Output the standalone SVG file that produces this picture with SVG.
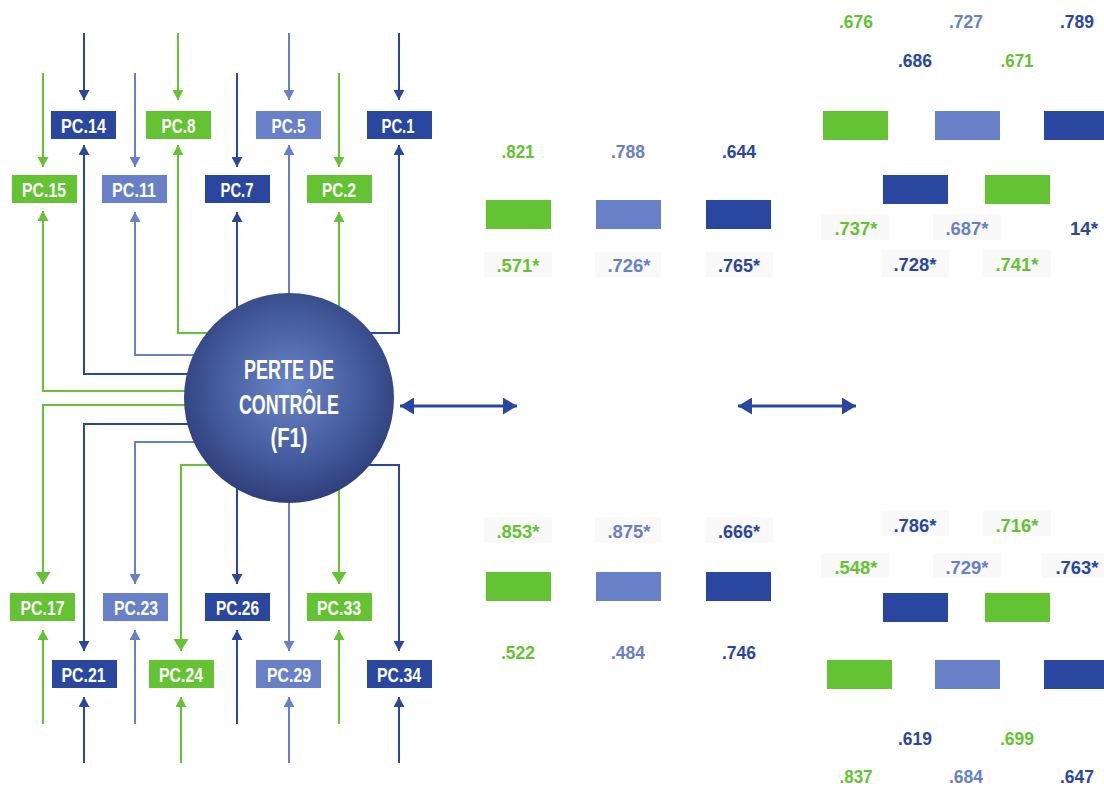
<svg xmlns="http://www.w3.org/2000/svg" width="1104" height="788" viewBox="0 0 1104 788">
<style>
.dk{fill:#29479e}.lb{fill:#6780c8}.gr{fill:#64c332}
.sdk{stroke:#29479e}.slb{stroke:#6780c8}.sgr{stroke:#64c332}
.c{fill:none;stroke-width:2}
.lbl{font-family:"Liberation Sans",Arial,sans-serif;font-weight:700;font-size:21px;fill:#fff;text-anchor:middle}
.num{font-family:"Liberation Sans",Arial,sans-serif;font-weight:700;font-size:19px;text-anchor:middle}
.tdk{fill:#29479e}.tlb{fill:#6780c8}.tgr{fill:#64c332}
.bg{fill:#f9f9f9}
.ctr{font-family:"Liberation Sans",Arial,sans-serif;font-weight:700;font-size:27px;fill:#fff;text-anchor:middle}
</style>
<defs>
<marker id="adk" markerUnits="userSpaceOnUse" markerWidth="11" markerHeight="11" refX="10" refY="5.5" orient="auto"><path d="M0,0L10,5.5L0,11z" fill="#29479e"/></marker>
<marker id="alb" markerUnits="userSpaceOnUse" markerWidth="11" markerHeight="11" refX="10" refY="5.5" orient="auto"><path d="M0,0L10,5.5L0,11z" fill="#6780c8"/></marker>
<marker id="agr" markerUnits="userSpaceOnUse" markerWidth="11" markerHeight="11" refX="10" refY="5.5" orient="auto"><path d="M0,0L10,5.5L0,11z" fill="#64c332"/></marker>
<marker id="agrb" markerUnits="userSpaceOnUse" markerWidth="13" markerHeight="15" refX="12" refY="7.5" orient="auto"><path d="M0,0L12,7.5L0,15z" fill="#64c332"/></marker>
<marker id="dbl" markerUnits="userSpaceOnUse" markerWidth="15" markerHeight="17" refX="14" refY="8.5" orient="auto-start-reverse"><path d="M0,0L14,8.5L0,17z" fill="#29479e"/></marker>
<radialGradient id="cg" cx="0.5" cy="0.45" r="0.55">
<stop offset="0" stop-color="#6985c7"/>
<stop offset="0.6" stop-color="#465d9f"/>
<stop offset="1" stop-color="#2f3f7c"/>
</radialGradient>
</defs>
<g id="connectors">
<path class="c sdk" d="M84,33V100" marker-end="url(#adk)"/>
<path class="c sgr" d="M178,33V100" marker-end="url(#agr)"/>
<path class="c slb" d="M289,33V100" marker-end="url(#alb)"/>
<path class="c sdk" d="M399,33V100" marker-end="url(#adk)"/>
<path class="c sgr" d="M43,73V167" marker-end="url(#agr)"/>
<path class="c slb" d="M135,73V167" marker-end="url(#alb)"/>
<path class="c sdk" d="M237,73V167" marker-end="url(#adk)"/>
<path class="c sgr" d="M339,73V167" marker-end="url(#agr)"/>
<path class="c sdk" d="M289,374H84V145" marker-end="url(#adk)"/>
<path class="c slb" d="M289,355H135V212" marker-end="url(#alb)"/>
<path class="c sgr" d="M289,333H178V145" marker-end="url(#agr)"/>
<path class="c sdk" d="M237,398V212" marker-end="url(#adk)"/>
<path class="c slb" d="M289,398V145" marker-end="url(#alb)"/>
<path class="c sgr" d="M339,398V212" marker-end="url(#agr)"/>
<path class="c sdk" d="M289,333H399V145" marker-end="url(#adk)"/>
<path class="c sgr" d="M289,391H43V211" marker-end="url(#agr)"/>
<path class="c sgr" d="M289,405H43V584" marker-end="url(#agrb)"/>
<path class="c sdk" d="M289,424H84V651" marker-end="url(#adk)"/>
<path class="c slb" d="M289,442H135V584" marker-end="url(#alb)"/>
<path class="c sgr" d="M289,465H181V651" marker-end="url(#agrb)"/>
<path class="c sdk" d="M237,398V584" marker-end="url(#adk)"/>
<path class="c slb" d="M289,398V651" marker-end="url(#alb)"/>
<path class="c sgr" d="M339,398V584" marker-end="url(#agrb)"/>
<path class="c sdk" d="M289,465H399V651" marker-end="url(#adk)"/>
<path class="c sgr" d="M43,724V630" marker-end="url(#agr)"/>
<path class="c slb" d="M135,724V630" marker-end="url(#alb)"/>
<path class="c sdk" d="M237,724V630" marker-end="url(#adk)"/>
<path class="c sgr" d="M339,724V630" marker-end="url(#agr)"/>
<path class="c sdk" d="M84,763V697" marker-end="url(#adk)"/>
<path class="c sgr" d="M181,763V697" marker-end="url(#agr)"/>
<path class="c slb" d="M289,763V697" marker-end="url(#alb)"/>
<path class="c sdk" d="M399,763V697" marker-end="url(#adk)"/>
<path d="M400,406H517" stroke="#29479e" stroke-width="3" fill="none" marker-start="url(#dbl)" marker-end="url(#dbl)"/>
<path d="M738,406H856" stroke="#29479e" stroke-width="3" fill="none" marker-start="url(#dbl)" marker-end="url(#dbl)"/>
</g>
<g id="f1">
<circle cx="289" cy="398" r="105" fill="url(#cg)"/>
<text class="ctr" x="289" y="379" textLength="90" lengthAdjust="spacingAndGlyphs">PERTE DE</text>
<text class="ctr" x="289" y="414" textLength="100" lengthAdjust="spacingAndGlyphs">CONTRÔLE</text>
<text class="ctr" x="289" y="447" textLength="37" lengthAdjust="spacingAndGlyphs">(F1)</text>
</g>
<g id="pc14"><rect class="dk" x="51" y="111" width="65" height="28"/><text class="lbl" x="83.5" y="132.5" textLength="45" lengthAdjust="spacingAndGlyphs">PC.14</text></g>
<g id="pc8"><rect class="gr" x="146" y="111" width="65" height="28"/><text class="lbl" x="178.5" y="132.5" textLength="34" lengthAdjust="spacingAndGlyphs">PC.8</text></g>
<g id="pc5"><rect class="lb" x="256" y="111" width="65" height="28"/><text class="lbl" x="288.5" y="132.5" textLength="34" lengthAdjust="spacingAndGlyphs">PC.5</text></g>
<g id="pc1"><rect class="dk" x="367" y="111" width="65" height="28"/><text class="lbl" x="398" y="132.5" textLength="33" lengthAdjust="spacingAndGlyphs">PC.1</text></g>
<g id="pc15"><rect class="gr" x="12" y="175" width="65" height="28"/><text class="lbl" x="44" y="196.5" textLength="44" lengthAdjust="spacingAndGlyphs">PC.15</text></g>
<g id="pc11"><rect class="lb" x="102" y="175" width="65" height="28"/><text class="lbl" x="134" y="196.5" textLength="44" lengthAdjust="spacingAndGlyphs">PC.11</text></g>
<g id="pc7"><rect class="dk" x="205" y="175" width="65" height="28"/><text class="lbl" x="237" y="196.5" textLength="33" lengthAdjust="spacingAndGlyphs">PC.7</text></g>
<g id="pc2"><rect class="gr" x="307" y="175" width="65" height="28"/><text class="lbl" x="339" y="196.5" textLength="34" lengthAdjust="spacingAndGlyphs">PC.2</text></g>
<g id="pc17"><rect class="gr" x="10" y="593" width="65" height="28"/><text class="lbl" x="42.5" y="614.5" textLength="44" lengthAdjust="spacingAndGlyphs">PC.17</text></g>
<g id="pc23"><rect class="lb" x="103" y="593" width="65" height="28"/><text class="lbl" x="136" y="614.5" textLength="44" lengthAdjust="spacingAndGlyphs">PC.23</text></g>
<g id="pc26"><rect class="dk" x="205" y="593" width="65" height="28"/><text class="lbl" x="237.5" y="614.5" textLength="43" lengthAdjust="spacingAndGlyphs">PC.26</text></g>
<g id="pc33"><rect class="gr" x="307" y="593" width="65" height="28"/><text class="lbl" x="339" y="614.5" textLength="44" lengthAdjust="spacingAndGlyphs">PC.33</text></g>
<g id="pc21"><rect class="dk" x="52" y="660" width="65" height="28"/><text class="lbl" x="83.5" y="681.5" textLength="44" lengthAdjust="spacingAndGlyphs">PC.21</text></g>
<g id="pc24"><rect class="gr" x="149" y="660" width="65" height="28"/><text class="lbl" x="181" y="681.5" textLength="44" lengthAdjust="spacingAndGlyphs">PC.24</text></g>
<g id="pc29"><rect class="lb" x="256" y="660" width="65" height="28"/><text class="lbl" x="289" y="681.5" textLength="44" lengthAdjust="spacingAndGlyphs">PC.29</text></g>
<g id="pc34"><rect class="dk" x="367" y="660" width="65" height="28"/><text class="lbl" x="399" y="681.5" textLength="44" lengthAdjust="spacingAndGlyphs">PC.34</text></g>
<g id="mid-top">
<text class="num tgr" x="518" y="158" textLength="33" lengthAdjust="spacingAndGlyphs">.821</text>
<text class="num tlb" x="628" y="158" textLength="34" lengthAdjust="spacingAndGlyphs">.788</text>
<text class="num tdk" x="739" y="158" textLength="34" lengthAdjust="spacingAndGlyphs">.644</text>
<rect class="gr" x="486" y="200" width="65" height="29"/>
<rect class="lb" x="596" y="200" width="65" height="29"/>
<rect class="dk" x="706" y="200" width="65" height="29"/>
<rect class="bg" x="484" y="252" width="68" height="25"/>
<rect class="bg" x="595" y="252" width="66" height="25"/>
<rect class="bg" x="705" y="252" width="68" height="25"/>
<text class="num tgr" x="518" y="272" textLength="43" lengthAdjust="spacingAndGlyphs">.571*</text>
<text class="num tlb" x="629" y="272" textLength="43" lengthAdjust="spacingAndGlyphs">.726*</text>
<text class="num tdk" x="739" y="272" textLength="42" lengthAdjust="spacingAndGlyphs">.765*</text>
</g>
<g id="mid-bottom">
<rect class="bg" x="484" y="517" width="68" height="26"/>
<rect class="bg" x="595" y="517" width="66" height="26"/>
<rect class="bg" x="705" y="517" width="68" height="26"/>
<text class="num tgr" x="518" y="538" textLength="43" lengthAdjust="spacingAndGlyphs">.853*</text>
<text class="num tlb" x="629" y="538" textLength="43" lengthAdjust="spacingAndGlyphs">.875*</text>
<text class="num tdk" x="739" y="538" textLength="42" lengthAdjust="spacingAndGlyphs">.666*</text>
<rect class="gr" x="486" y="572" width="65" height="29"/>
<rect class="lb" x="596" y="572" width="65" height="29"/>
<rect class="dk" x="706" y="572" width="65" height="29"/>
<text class="num tgr" x="518" y="659" textLength="34" lengthAdjust="spacingAndGlyphs">.522</text>
<text class="num tlb" x="628" y="659" textLength="34" lengthAdjust="spacingAndGlyphs">.484</text>
<text class="num tdk" x="739" y="659" textLength="34" lengthAdjust="spacingAndGlyphs">.746</text>
</g>
<g id="right-top">
<text class="num tgr" x="856" y="28" textLength="34" lengthAdjust="spacingAndGlyphs">.676</text>
<text class="num tlb" x="966" y="28" textLength="34" lengthAdjust="spacingAndGlyphs">.727</text>
<text class="num tdk" x="1077" y="28" textLength="34" lengthAdjust="spacingAndGlyphs">.789</text>
<text class="num tdk" x="915" y="67" textLength="34" lengthAdjust="spacingAndGlyphs">.686</text>
<text class="num tgr" x="1017" y="67" textLength="33" lengthAdjust="spacingAndGlyphs">.671</text>
<rect class="gr" x="823" y="111" width="65" height="29"/>
<rect class="lb" x="935" y="111" width="65" height="29"/>
<rect class="dk" x="1044" y="111" width="65" height="29"/>
<rect class="dk" x="883" y="175" width="65" height="29"/>
<rect class="gr" x="985" y="175" width="65" height="29"/>
<rect class="bg" x="821" y="214" width="68" height="26"/>
<rect class="bg" x="933" y="214" width="68" height="26"/>
<text class="num tgr" x="856" y="235" textLength="43" lengthAdjust="spacingAndGlyphs">.737*</text>
<text class="num tlb" x="967" y="235" textLength="43" lengthAdjust="spacingAndGlyphs">.687*</text>
<text class="num tdk" x="1084" y="235" textLength="28" lengthAdjust="spacingAndGlyphs">14*</text>
<rect class="bg" x="881" y="250" width="68" height="27"/>
<rect class="bg" x="983" y="250" width="68" height="27"/>
<text class="num tdk" x="915" y="271" textLength="43" lengthAdjust="spacingAndGlyphs">.728*</text>
<text class="num tgr" x="1017" y="271" textLength="43" lengthAdjust="spacingAndGlyphs">.741*</text>
</g>
<g id="right-bottom">
<rect class="bg" x="881" y="511" width="68" height="25"/>
<rect class="bg" x="983" y="511" width="68" height="25"/>
<text class="num tdk" x="915" y="532" textLength="43" lengthAdjust="spacingAndGlyphs">.786*</text>
<text class="num tgr" x="1017" y="532" textLength="43" lengthAdjust="spacingAndGlyphs">.716*</text>
<rect class="bg" x="821" y="553" width="68" height="25"/>
<rect class="bg" x="933" y="553" width="68" height="25"/>
<rect class="bg" x="1042" y="553" width="68" height="25"/>
<text class="num tgr" x="856" y="574" textLength="43" lengthAdjust="spacingAndGlyphs">.548*</text>
<text class="num tlb" x="967" y="574" textLength="43" lengthAdjust="spacingAndGlyphs">.729*</text>
<text class="num tdk" x="1077" y="574" textLength="43" lengthAdjust="spacingAndGlyphs">.763*</text>
<rect class="dk" x="883" y="593" width="65" height="29"/>
<rect class="gr" x="985" y="593" width="65" height="29"/>
<rect class="gr" x="827" y="660" width="65" height="29"/>
<rect class="lb" x="935" y="660" width="65" height="29"/>
<rect class="dk" x="1044" y="660" width="65" height="29"/>
<text class="num tdk" x="915" y="745" textLength="34" lengthAdjust="spacingAndGlyphs">.619</text>
<text class="num tgr" x="1017" y="745" textLength="34" lengthAdjust="spacingAndGlyphs">.699</text>
<text class="num tgr" x="856" y="783" textLength="33" lengthAdjust="spacingAndGlyphs">.837</text>
<text class="num tlb" x="966" y="783" textLength="34" lengthAdjust="spacingAndGlyphs">.684</text>
<text class="num tdk" x="1077" y="783" textLength="34" lengthAdjust="spacingAndGlyphs">.647</text>
</g>
</svg>
